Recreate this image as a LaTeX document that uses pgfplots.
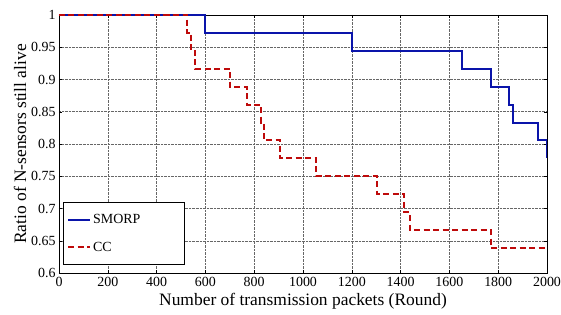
\documentclass[border=0pt]{standalone}
\usepackage{pgfplots}
\pgfplotsset{compat=1.18}
\usepackage{fontspec}
\setmainfont{Liberation Serif}
\definecolor{smorp}{RGB}{10,20,170}
\definecolor{cc}{RGB}{190,10,10}
\begin{document}
\begin{tikzpicture}
\useasboundingbox (-59bp,-42bp) rectangle (502bp,273bp);
\begin{axis}[
  scale only axis,
  width=488bp, height=258bp,
  at={(0,0)}, anchor=south west,
  xmin=0, xmax=2000, ymin=0.6, ymax=1,
  xtick={0,200,...,2000},
  ytick={0.6,0.65,...,1.0},
  yticklabels={0.6,0.65,0.7,0.75,0.8,0.85,0.9,0.95,1},
  /pgf/number format/assume math mode=true,
  scaled x ticks=false,
  xticklabel style={/pgf/number format/1000 sep={}, yshift=-1bp},
  tick align=inside,
  major tick length=3bp,
  tick style={black, thin},
  grid=major,
  grid style={black!60, densely dotted, line width=0.5pt},
  axis line style={black, line width=0.6pt},
  ticklabel style={font=\fontsize{14}{16}\selectfont},
  xlabel={Number of transmission packets (Round)},
  ylabel={Ratio of N-sensors still alive},
  label style={font=\fontsize{17.5}{19}\selectfont},
  xlabel style={yshift=1bp},
  ylabel style={yshift=-2bp},
  legend style={at={(0.008,0.031)}, anchor=south west, font=\fontsize{14}{16}\selectfont,
    draw=black, line width=0.6pt, row sep=13bp, inner xsep=4bp, inner ysep=10bp,
    nodes={text width=85bp, align=left}},
  legend cell align=left,
  legend image code/.code={\draw[#1, line width=1.8pt] (0cm,0cm) -- (0.78cm,0cm);},
]
\addplot[const plot, color=smorp, line width=2pt] coordinates {
(0,1) (600,0.9722) (1200,0.9444) (1652,0.9167) (1770,0.8889) (1844,0.8611) (1861,0.8333) (1962,0.8056) (2000,0.7778)
};
\addlegendentry{SMORP}
\addplot[const plot, color=cc, line width=2pt, dash pattern=on 6bp off 3.5bp] coordinates {
(0,1) (526,0.9722) (541,0.9444) (559,0.9167) (700,0.8889) (770,0.8611) (829,0.8333) (839,0.8056) (904,0.7778) (1055,0.75) (1305,0.7222) (1414,0.6944) (1437,0.6667) (1770,0.6389) (2000,0.6389)
};
\addlegendentry{CC}
\end{axis}
\end{tikzpicture}
\end{document}
